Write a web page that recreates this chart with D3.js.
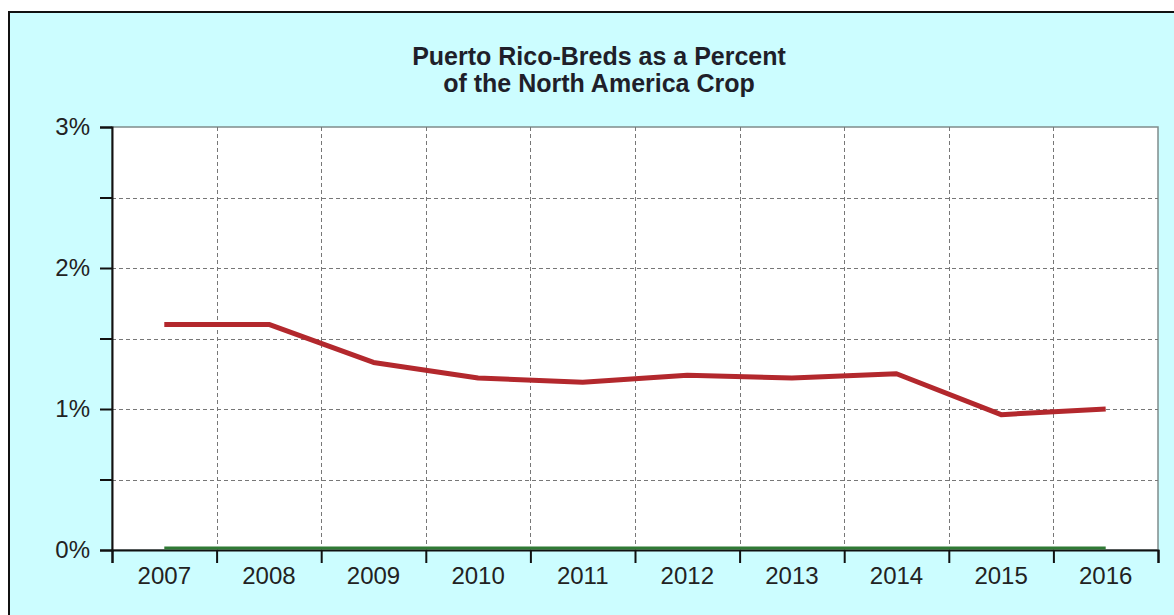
<!DOCTYPE html>
<html lang="en">
<head>
  <meta charset="UTF-8">
  <title>Puerto Rico-Breds</title>
  <style>
    body { margin: 0; background: #fff; }
    svg { display: block; font-family: "Liberation Sans", Arial, sans-serif; }
  </style>
</head>
<body>
  <svg id="chart" width="1174" height="615"></svg>

  <script src="https://cdn.jsdelivr.net/npm/d3@7"></script>
  <script>
    // data
    var years = ["2007", "2008", "2009", "2010", "2011", "2012", "2013", "2014", "2015", "2016"];
    var prPercent = [1.6, 1.6, 1.33, 1.22, 1.19, 1.24, 1.22, 1.25, 0.96, 1.0];
    var zeroSeries = [0, 0, 0, 0, 0, 0, 0, 0, 0, 0];
    var yTicks = [0, 0.5, 1, 1.5, 2, 2.5, 3];
    var titleLines = ["Puerto Rico-Breds as a Percent", "of the North America Crop"];

    var svg = d3.select("#chart"),
      width = +svg.attr("width"),
      height = +svg.attr("height"),
      plotLeft = 112, plotRight = 1158, plotTop = 127, plotBottom = 550;

    // background panel with border on top/left only
    svg.append("rect")
      .attr("x", 9).attr("y", 13)
      .attr("width", width - 9).attr("height", height - 13)
      .attr("fill", "#ccfdff");
    svg.append("path")
      .attr("d", "M9," + height + "V12H" + width)
      .attr("fill", "none")
      .attr("stroke", "#111")
      .attr("stroke-width", 2);

    var x = d3.scaleBand().domain(years).range([plotLeft, plotRight]).padding(0);
    var xb = d3.scaleLinear().domain([0, years.length]).range([plotLeft, plotRight]);
    var y = d3.scaleLinear().domain([0, 3]).range([plotBottom, plotTop]);

    // plot area
    svg.append("rect")
      .attr("x", plotLeft).attr("y", plotTop)
      .attr("width", plotRight - plotLeft).attr("height", plotBottom - plotTop)
      .attr("fill", "#fff")
      .attr("stroke", "#7f8c8c")
      .attr("stroke-width", 1.5);

    // grid
    var grid = svg.append("g")
      .attr("stroke", "#777")
      .attr("stroke-width", 1)
      .attr("stroke-dasharray", "4,3");
    grid.selectAll(".h").data(yTicks.filter(function (d) { return d > 0 && d < 3; }))
      .enter().append("line")
      .attr("x1", plotLeft).attr("x2", plotRight)
      .attr("y1", function (d) { return Math.round(y(d)) + 0.5; })
      .attr("y2", function (d) { return Math.round(y(d)) + 0.5; });
    grid.selectAll(".v").data(d3.range(1, years.length))
      .enter().append("line")
      .attr("y1", plotTop).attr("y2", plotBottom)
      .attr("x1", function (d) { return Math.round(xb(d)) + 0.5; })
      .attr("x2", function (d) { return Math.round(xb(d)) + 0.5; });

    // title
    svg.append("text")
      .attr("x", 599).attr("y", 65)
      .attr("text-anchor", "middle")
      .attr("font-weight", "bold")
      .attr("font-size", 25)
      .attr("fill", "#1f1f2a")
      .selectAll("tspan").data(titleLines).enter().append("tspan")
      .attr("x", 599)
      .attr("dy", function (d, i) { return i ? 27 : 0; })
      .text(function (d) { return d; });

    // y axis
    var yAxis = svg.append("g")
      .attr("transform", "translate(" + plotLeft + ",0)")
      .call(d3.axisLeft(y).tickValues(yTicks).tickSize(12).tickPadding(10)
        .tickFormat(function (d) { return Number.isInteger(d) ? d + "%" : ""; }));
    yAxis.select(".domain").attr("stroke", "#111").attr("stroke-width", 2);
    yAxis.selectAll(".tick line").attr("stroke", "#111").attr("stroke-width", 2);
    yAxis.selectAll("text").attr("font-size", 24).attr("fill", "#222")
      .attr("font-family", "Liberation Sans, Arial, sans-serif");

    // x axis: boundary ticks
    var xTickAxis = svg.append("g")
      .attr("transform", "translate(0," + plotBottom + ")")
      .call(d3.axisBottom(xb).tickValues(d3.range(0, years.length + 1)).tickSize(13).tickFormat(""));
    xTickAxis.select(".domain").attr("stroke", "#111").attr("stroke-width", 2);
    xTickAxis.selectAll(".tick line").attr("stroke", "#111").attr("stroke-width", 2);

    // x axis: category labels
    var xLabels = svg.append("g")
      .attr("transform", "translate(0," + plotBottom + ")")
      .call(d3.axisBottom(x).tickSize(0).tickPadding(17));
    xLabels.select(".domain").remove();
    xLabels.selectAll("text").attr("font-size", 24).attr("fill", "#222")
      .attr("font-family", "Liberation Sans, Arial, sans-serif");

    var line = d3.line()
      .x(function (d, i) { return x(years[i]) + x.bandwidth() / 2; })
      .y(function (d) { return y(d); });

    // zero series (green)
    svg.append("path")
      .datum(zeroSeries)
      .attr("transform", "translate(0,-2)")
      .attr("fill", "none")
      .attr("stroke", "#2f7a34")
      .attr("stroke-width", 3)
      .attr("d", line);

    // Puerto Rico series
    svg.append("path")
      .datum(prPercent)
      .attr("fill", "none")
      .attr("stroke", "#b3282d")
      .attr("stroke-width", 5)
      .attr("stroke-linejoin", "round")
      .attr("d", line);
  </script>
</body>
</html>
